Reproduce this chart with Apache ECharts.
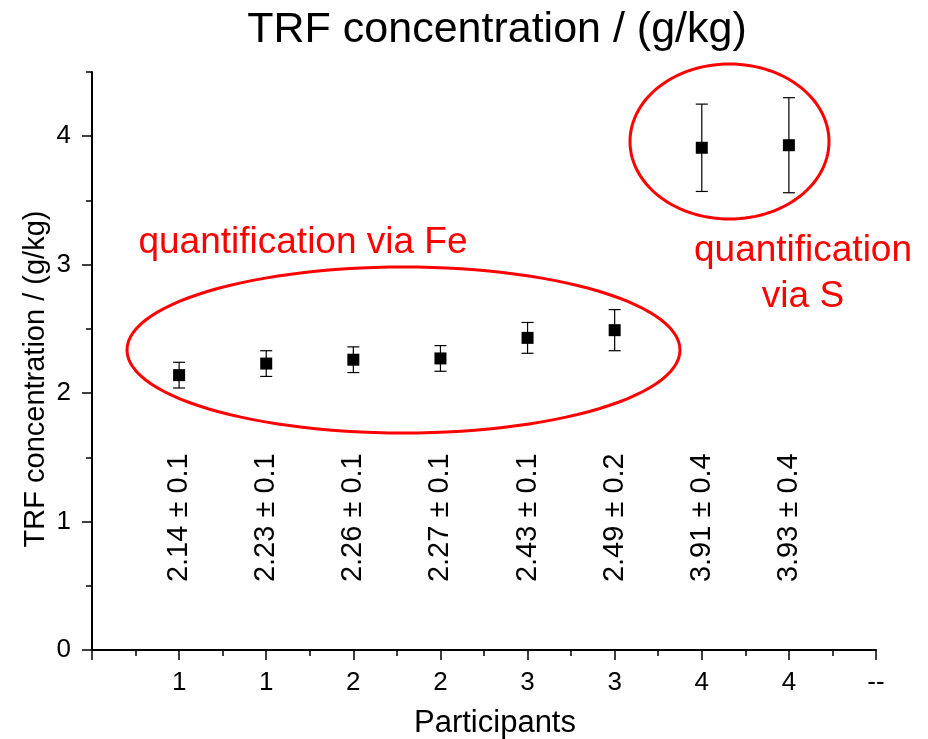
<!DOCTYPE html>
<html>
<head>
<meta charset="utf-8">
<script src="https://cdn.jsdelivr.net/npm/echarts@6/dist/echarts.min.js"></script>
<style>
  html, body { margin: 0; padding: 0; background: #fff; }
  #chart { width: 928px; height: 739px; }
</style>
</head>
<body>
<div id="chart"></div>
<script>
// Participant slots along the x axis and the measured TRF concentrations
const positions = [1, 2, 3, 4, 5, 6, 7, 8];
const concentration = [2.14, 2.23, 2.26, 2.27, 2.43, 2.49, 3.91, 3.93];
// half-length of each error bar (g/kg)
const errorBar = [0.10, 0.10, 0.10, 0.10, 0.12, 0.16, 0.34, 0.37];
// uncertainty as written in the value labels
const errorText = ['0.1', '0.1', '0.1', '0.1', '0.1', '0.2', '0.4', '0.4'];
// x tick labels for ticks 0..9
const xTickLabels = ['', '1', '1', '2', '2', '3', '3', '4', '4', '--'];
const yTickValues = [0, 1, 2, 3, 4];

const FONT = '"Liberation Sans", Arial, sans-serif';
const RED = '#ff0000';
const labelLevel = 1.03; // y value at which the rotated value labels are centred

function ellipsePoints(cx, cy, rx, ry) {
  const pts = [];
  const n = 120;
  for (let i = 0; i < n; i++) {
    const a = (i / n) * Math.PI * 2;
    pts.push([cx + rx * Math.cos(a), cy + ry * Math.sin(a)]);
  }
  return pts;
}

const chart = echarts.init(document.getElementById('chart'), null, { renderer: 'canvas' });

const option = {
  backgroundColor: '#fff',
  animation: false,
  grid: { left: 92, right: 52, top: 72, bottom: 89, containLabel: false },
  xAxis: {
    type: 'value',
    min: 0, max: 9, interval: 1,
    axisLine: { show: true, onZero: false, lineStyle: { color: '#000', width: 2 } },
    axisTick: { show: true, length: 10, lineStyle: { color: '#000', width: 1.5 } },
    minorTick: { show: true, splitNumber: 2, length: 6, lineStyle: { color: '#000', width: 1.5 } },
    splitLine: { show: false },
    axisLabel: {
      margin: 20,
      fontSize: 26, fontFamily: FONT, color: '#000',
      showMinLabel: true, showMaxLabel: true,
      formatter: v => xTickLabels[Math.round(v)] ?? ''
    }
  },
  yAxis: [
    {
      type: 'value',
      min: 0, max: 4.5, interval: 1,
      position: 'left',
      axisLine: { show: true, onZero: false, lineStyle: { color: '#000', width: 2 } },
      axisTick: { show: true, length: 10, customValues: yTickValues, lineStyle: { color: '#000', width: 1.5 } },
      splitLine: { show: false },
      axisLabel: {
        margin: 21, customValues: yTickValues,
        fontSize: 26, fontFamily: FONT, color: '#000'
      }
    },
    {
      // half-unit minor ticks on the same left axis
      type: 'value',
      min: 0, max: 4.5, interval: 0.5,
      position: 'left', offset: 0,
      axisLine: { show: false },
      axisTick: { show: true, length: 6, lineStyle: { color: '#000', width: 1.5 } },
      splitLine: { show: false },
      axisLabel: { show: false }
    }
  ],
  series: [
    {
      name: 'error',
      type: 'custom',
      z: 3,
      data: positions.map((p, i) => [p, concentration[i], errorBar[i]]),
      renderItem: (params, api) => {
        const x = api.value(0), y = api.value(1), e = api.value(2);
        const top = api.coord([x, y + e]);
        const bot = api.coord([x, y - e]);
        const hw = 6;
        const st = { stroke: '#000', lineWidth: 1.2 };
        return {
          type: 'group',
          children: [
            { type: 'line', shape: { x1: top[0], y1: top[1], x2: bot[0], y2: bot[1] }, style: st },
            { type: 'line', shape: { x1: top[0] - hw, y1: top[1], x2: top[0] + hw, y2: top[1] }, style: st },
            { type: 'line', shape: { x1: bot[0] - hw, y1: bot[1], x2: bot[0] + hw, y2: bot[1] }, style: st }
          ]
        };
      }
    },
    {
      name: 'TRF',
      type: 'scatter',
      z: 4,
      symbol: 'rect',
      symbolSize: 12,
      itemStyle: { color: '#000', opacity: 1 },
      data: positions.map((p, i) => [p, concentration[i]])
    },
    {
      name: 'labels',
      type: 'custom',
      z: 5,
      data: positions.map((p, i) => [p, concentration[i]]),
      renderItem: (params, api) => {
        const i = params.dataIndex;
        const pt = api.coord([api.value(0), labelLevel]);
        return {
          type: 'text',
          x: pt[0], y: pt[1],
          rotation: Math.PI / 2,
          style: {
            text: api.value(1).toFixed(2) + ' \u00b1 ' + errorText[i],
            fontSize: 29, fontFamily: FONT, fill: '#000',
            align: 'center', verticalAlign: 'middle'
          }
        };
      }
    }
  ],
  graphic: [
    {
      type: 'text', x: 497, y: 30,
      style: { text: 'TRF concentration / (g/kg)', fontSize: 43, fontFamily: FONT, fill: '#000', align: 'center', verticalAlign: 'middle' }
    },
    {
      type: 'text', x: 36, y: 379, rotation: Math.PI / 2,
      style: { text: 'TRF concentration / (g/kg)', fontSize: 29, fontFamily: FONT, fill: '#000', align: 'center', verticalAlign: 'middle' }
    },
    {
      type: 'text', x: 495, y: 723,
      style: { text: 'Participants', fontSize: 31, fontFamily: FONT, fill: '#000', align: 'center', verticalAlign: 'middle' }
    },
    {
      type: 'text', x: 303, y: 243,
      style: { text: 'quantification via Fe', fontSize: 37, fontFamily: FONT, fill: RED, align: 'center', verticalAlign: 'middle' }
    },
    {
      type: 'text', x: 803, y: 274,
      style: { text: 'quantification\nvia S', fontSize: 37, lineHeight: 46, fontFamily: FONT, fill: RED, align: 'center', verticalAlign: 'middle' }
    },
    {
      type: 'polygon', z: 10,
      shape: { points: ellipsePoints(403.5, 350, 276.5, 83) },
      style: { fill: 'none', stroke: RED, lineWidth: 3 }
    },
    {
      type: 'polygon', z: 10,
      shape: { points: ellipsePoints(729.5, 141.5, 99.5, 77.5) },
      style: { fill: 'none', stroke: RED, lineWidth: 3 }
    }
  ]
};

chart.setOption(option);
</script>
</body>
</html>
